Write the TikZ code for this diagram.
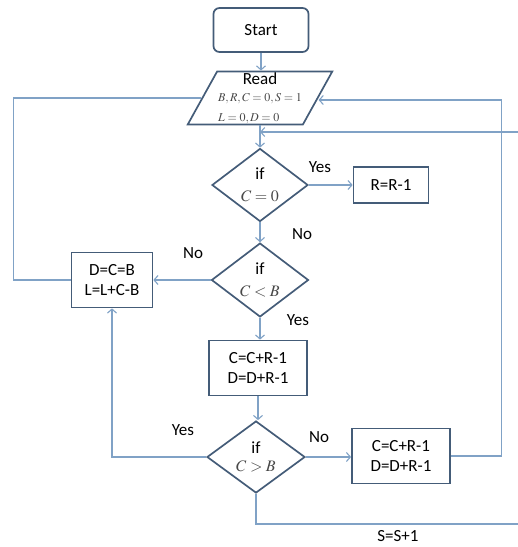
\documentclass[tikz,border=0pt]{standalone}
\usepackage{mathptmx}
\usepackage[no-math]{fontspec}
\setmainfont{Carlito}
\usepackage{tikz}
\usetikzlibrary{shapes.geometric,arrows.meta}
\definecolor{cFrame}{RGB}{68,92,120}
\definecolor{cFlow}{RGB}{128,162,198}
\definecolor{cMath}{RGB}{72,72,72}
\newcommand{\formel}[1]{\textcolor{cMath}{$#1$}}

\begin{document}
\begin{tikzpicture}[x=1pt,y=-1pt,font=\fontsize{17}{20}\selectfont,
  box/.style={draw=cFrame,line width=1.7pt,fill=white,inner sep=2pt,align=center},
  cond/.style={diamond,draw=cFrame,line width=1.7pt,inner sep=0pt,align=center},
  flow/.style={cFlow,line width=1.1pt,-{Straight Barb[length=4pt,width=9pt]}},
  line/.style={cFlow,line width=1.1pt}]
\useasboundingbox (0,0) rectangle (518,547);
\node[box,rounded corners=6pt,minimum width=95,minimum height=44] (start) at (261,30) {Start};
\node[trapezium,trapezium left angle=61,trapezium right angle=119,trapezium stretches=true,
  draw=cFrame,line width=1.7pt,inner sep=1pt,align=center,minimum width=132,minimum height=49] (read) at (260,98)
  {Read\\[-3pt]\fontsize{12}{13}\selectfont\formel{B,R,C=0,S=1}\\[0pt]
   \fontsize{12}{13}\selectfont\rlap{\formel{L=0,D=0}}\phantom{$B,R,C=0,S=1$}};
\node[cond,minimum width=96,minimum height=73] (ifA) at (260,185) {if\\[2pt]\fontsize{16}{18}\selectfont\formel{C=0}};
\node[box,minimum width=75,minimum height=36] (dec) at (391,185) {R=R-1};
\node[cond,minimum width=97,minimum height=73] (ifB) at (260,280) {if\\[2pt]\fontsize{16}{18}\selectfont\formel{C<B}};
\node[box,minimum width=81,minimum height=55] (reset) at (112,280) {D=C=B\\L=L+C-B};
\node[box,minimum width=98,minimum height=55] (addA) at (258,368) {C=C+R-1\\D=D+R-1};
\node[cond,minimum width=98,minimum height=72] (ifC) at (256,457) {if\\[-2pt]\fontsize{16}{18}\selectfont\formel{C>B}};
\node[box,minimum width=98,minimum height=55] (addB) at (401,456) {C=C+R-1\\D=D+R-1};
\node (inc) at (398,536) {S=S+1};
% labels of the branches
\node (yesA) at (320,167) {Yes};
\node (noA) at (302,234) {No};
\node (noB) at (193,253) {No};
\node (yesB) at (298,320) {Yes};
\node (yesC) at (183,430) {Yes};
\node (noC) at (319,437) {No};
% loose ends at the right border
\coordinate (loopIn) at (518,132);
\coordinate (loopOut) at (518,524);
% connectors
\draw[flow] (start.south) -- (start.south |- read.north);
\draw[flow] (read.south) -- (read.south |- ifA.north);
\draw[flow] (ifA) -- (dec);
\draw[flow] (ifA.south) -- (ifA.south |- ifB.north);
\draw[flow] (ifB) -- (reset);
\draw[flow] (ifB.south) -- (ifB.south |- addA.north);
\draw[flow] (addA.south) -- (addA.south |- ifC.north);
\draw[flow] (ifC.east) -- (ifC.east -| addB.west);
\draw[flow] (ifC.west) -| (reset.south);
\draw[line] (reset.west) -- ++(-57,0) |- (read.west);
\draw[flow] (addB.east) -- ++(51,0) |- ([yshift=-2pt]read.east);
\draw[flow] (loopIn) -- (loopIn -| read.south);
\draw[line] (ifC.south) |- (loopOut);
\end{tikzpicture}
\end{document}
